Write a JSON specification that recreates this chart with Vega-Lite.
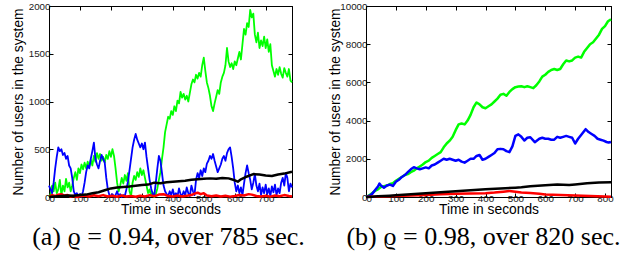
{
  "$schema": "https://vega.github.io/schema/vega-lite/v6.json",
  "padding": {"left": 10, "top": 0, "right": 5, "bottom": 2},
  "background": "white",
  "bounds": "flush",
  "spacing": 74,
  "config": {
    "view": {"stroke": "black", "strokeWidth": 1},
    "axis": {"grid": false, "domainColor": "black", "tickColor": "black", "tickSize": -4, "labelFont": "Liberation Sans", "labelFontSize": 9.8, "labelColor": "#1a1a1a", "titleFont": "Liberation Sans", "titleFontSize": 13.8, "titleFontWeight": "normal", "titleColor": "black", "labelPadding": 2, "titlePadding": 0},
    "axisBottom": {"labelPadding": 0},
    "axisLeft": {"minExtent": 24, "maxExtent": 24, "labelPadding": 3},
    "title": {"font": "Liberation Serif", "fontSize": 26, "fontWeight": "normal", "color": "black"},
    "line": {"strokeWidth": 1.8, "strokeJoin": "round"}
  },
  "datasets": {
    "a_green": [{"t":0,"v":0},{"t":5,"v":30},{"t":10,"v":120},{"t":15,"v":60},{"t":20,"v":150},{"t":25,"v":40},{"t":30,"v":80},{"t":35,"v":180},{"t":40,"v":20},{"t":45,"v":120},{"t":50,"v":60},{"t":55,"v":190},{"t":60,"v":100},{"t":65,"v":150},{"t":70,"v":60},{"t":75,"v":120},{"t":80,"v":200},{"t":85,"v":260},{"t":90,"v":180},{"t":95,"v":300},{"t":100,"v":250},{"t":105,"v":340},{"t":110,"v":290},{"t":115,"v":360},{"t":120,"v":300},{"t":125,"v":370},{"t":130,"v":320},{"t":135,"v":390},{"t":140,"v":330},{"t":145,"v":430},{"t":150,"v":370},{"t":155,"v":460},{"t":160,"v":400},{"t":165,"v":450},{"t":170,"v":380},{"t":175,"v":420},{"t":180,"v":360},{"t":185,"v":440},{"t":190,"v":400},{"t":195,"v":480},{"t":200,"v":420},{"t":205,"v":500},{"t":210,"v":430},{"t":215,"v":300},{"t":220,"v":150},{"t":225,"v":60},{"t":230,"v":120},{"t":235,"v":200},{"t":240,"v":140},{"t":245,"v":230},{"t":250,"v":170},{"t":255,"v":250},{"t":260,"v":60},{"t":265,"v":10},{"t":270,"v":150},{"t":275,"v":220},{"t":280,"v":180},{"t":285,"v":260},{"t":290,"v":210},{"t":295,"v":300},{"t":300,"v":230},{"t":305,"v":280},{"t":310,"v":200},{"t":315,"v":120},{"t":320,"v":40},{"t":325,"v":80},{"t":330,"v":10},{"t":335,"v":50},{"t":340,"v":0},{"t":345,"v":30},{"t":350,"v":90},{"t":355,"v":180},{"t":360,"v":260},{"t":365,"v":400},{"t":370,"v":520},{"t":375,"v":680},{"t":380,"v":760},{"t":385,"v":840},{"t":390,"v":820},{"t":395,"v":900},{"t":400,"v":860},{"t":405,"v":950},{"t":410,"v":900},{"t":415,"v":1010},{"t":420,"v":980},{"t":425,"v":1100},{"t":430,"v":1040},{"t":435,"v":1080},{"t":440,"v":1020},{"t":445,"v":1060},{"t":450,"v":1000},{"t":455,"v":1090},{"t":460,"v":1180},{"t":465,"v":1230},{"t":470,"v":1200},{"t":475,"v":1280},{"t":480,"v":1240},{"t":485,"v":1300},{"t":490,"v":1260},{"t":495,"v":1380},{"t":500,"v":1460},{"t":505,"v":1320},{"t":510,"v":1200},{"t":515,"v":1140},{"t":520,"v":1060},{"t":525,"v":950},{"t":530,"v":900},{"t":535,"v":980},{"t":540,"v":1050},{"t":545,"v":1120},{"t":550,"v":1080},{"t":555,"v":1200},{"t":560,"v":1260},{"t":565,"v":1300},{"t":570,"v":1380},{"t":575,"v":1560},{"t":580,"v":1420},{"t":585,"v":1360},{"t":590,"v":1400},{"t":595,"v":1340},{"t":600,"v":1420},{"t":605,"v":1380},{"t":610,"v":1450},{"t":615,"v":1520},{"t":620,"v":1440},{"t":625,"v":1600},{"t":630,"v":1760},{"t":635,"v":1700},{"t":640,"v":1820},{"t":645,"v":1780},{"t":650,"v":1960},{"t":655,"v":1880},{"t":660,"v":1920},{"t":665,"v":1700},{"t":670,"v":1620},{"t":675,"v":1720},{"t":680,"v":1560},{"t":685,"v":1640},{"t":690,"v":1580},{"t":695,"v":1680},{"t":700,"v":1560},{"t":705,"v":1650},{"t":710,"v":1520},{"t":715,"v":1600},{"t":720,"v":1380},{"t":725,"v":1320},{"t":730,"v":1260},{"t":735,"v":1340},{"t":740,"v":1280},{"t":745,"v":1360},{"t":750,"v":1290},{"t":755,"v":1250},{"t":760,"v":1350},{"t":765,"v":1300},{"t":770,"v":1260},{"t":775,"v":1340},{"t":780,"v":1220},{"t":785,"v":1200}],
    "a_blue": [{"t":0,"v":120},{"t":5,"v":80},{"t":10,"v":40},{"t":15,"v":150},{"t":20,"v":300},{"t":25,"v":420},{"t":30,"v":520},{"t":35,"v":480},{"t":40,"v":500},{"t":45,"v":440},{"t":50,"v":460},{"t":55,"v":400},{"t":60,"v":430},{"t":65,"v":330},{"t":70,"v":300},{"t":75,"v":200},{"t":80,"v":60},{"t":85,"v":20},{"t":90,"v":40},{"t":95,"v":10},{"t":100,"v":30},{"t":105,"v":5},{"t":110,"v":60},{"t":115,"v":150},{"t":120,"v":260},{"t":125,"v":330},{"t":130,"v":300},{"t":135,"v":400},{"t":140,"v":480},{"t":145,"v":570},{"t":150,"v":400},{"t":155,"v":340},{"t":160,"v":300},{"t":165,"v":380},{"t":170,"v":440},{"t":175,"v":400},{"t":180,"v":360},{"t":185,"v":200},{"t":190,"v":80},{"t":195,"v":20},{"t":200,"v":10},{"t":205,"v":30},{"t":210,"v":5},{"t":215,"v":20},{"t":220,"v":60},{"t":225,"v":10},{"t":230,"v":30},{"t":235,"v":0},{"t":240,"v":20},{"t":245,"v":10},{"t":250,"v":80},{"t":255,"v":160},{"t":260,"v":280},{"t":265,"v":400},{"t":270,"v":520},{"t":275,"v":600},{"t":280,"v":660},{"t":285,"v":600},{"t":290,"v":560},{"t":295,"v":520},{"t":300,"v":560},{"t":305,"v":500},{"t":310,"v":570},{"t":315,"v":420},{"t":320,"v":300},{"t":325,"v":180},{"t":330,"v":90},{"t":335,"v":30},{"t":340,"v":10},{"t":345,"v":150},{"t":350,"v":300},{"t":355,"v":430},{"t":360,"v":380},{"t":365,"v":250},{"t":370,"v":120},{"t":375,"v":60},{"t":380,"v":30},{"t":385,"v":10},{"t":390,"v":60},{"t":395,"v":20},{"t":400,"v":80},{"t":405,"v":10},{"t":410,"v":40},{"t":415,"v":5},{"t":420,"v":90},{"t":425,"v":30},{"t":430,"v":10},{"t":435,"v":60},{"t":440,"v":20},{"t":445,"v":100},{"t":450,"v":40},{"t":455,"v":10},{"t":460,"v":120},{"t":465,"v":60},{"t":470,"v":20},{"t":475,"v":180},{"t":480,"v":250},{"t":485,"v":200},{"t":490,"v":280},{"t":495,"v":220},{"t":500,"v":300},{"t":505,"v":260},{"t":510,"v":350},{"t":515,"v":380},{"t":520,"v":430},{"t":525,"v":400},{"t":530,"v":450},{"t":535,"v":380},{"t":540,"v":320},{"t":545,"v":260},{"t":550,"v":300},{"t":555,"v":340},{"t":560,"v":400},{"t":565,"v":430},{"t":570,"v":380},{"t":575,"v":460},{"t":580,"v":500},{"t":585,"v":520},{"t":590,"v":420},{"t":595,"v":300},{"t":600,"v":150},{"t":605,"v":60},{"t":610,"v":120},{"t":615,"v":40},{"t":620,"v":100},{"t":625,"v":20},{"t":630,"v":140},{"t":635,"v":250},{"t":640,"v":330},{"t":645,"v":250},{"t":650,"v":180},{"t":655,"v":80},{"t":660,"v":150},{"t":665,"v":240},{"t":670,"v":120},{"t":675,"v":60},{"t":680,"v":140},{"t":685,"v":20},{"t":690,"v":100},{"t":695,"v":40},{"t":700,"v":130},{"t":705,"v":30},{"t":710,"v":90},{"t":715,"v":10},{"t":720,"v":110},{"t":725,"v":50},{"t":730,"v":130},{"t":735,"v":20},{"t":740,"v":90},{"t":745,"v":40},{"t":750,"v":150},{"t":755,"v":200},{"t":760,"v":120},{"t":765,"v":250},{"t":770,"v":200},{"t":775,"v":60},{"t":780,"v":140},{"t":785,"v":100}],
    "a_red": [{"t":0,"v":5},{"t":10,"v":20},{"t":20,"v":10},{"t":30,"v":25},{"t":40,"v":30},{"t":50,"v":15},{"t":60,"v":20},{"t":70,"v":5},{"t":80,"v":12},{"t":90,"v":0},{"t":100,"v":8},{"t":115,"v":15},{"t":130,"v":5},{"t":145,"v":18},{"t":160,"v":8},{"t":175,"v":20},{"t":190,"v":5},{"t":205,"v":12},{"t":220,"v":3},{"t":235,"v":15},{"t":250,"v":5},{"t":265,"v":10},{"t":280,"v":2},{"t":295,"v":14},{"t":310,"v":6},{"t":325,"v":20},{"t":340,"v":8},{"t":355,"v":25},{"t":370,"v":30},{"t":385,"v":10},{"t":400,"v":5},{"t":415,"v":15},{"t":430,"v":5},{"t":445,"v":12},{"t":460,"v":20},{"t":470,"v":35},{"t":480,"v":45},{"t":490,"v":30},{"t":500,"v":40},{"t":510,"v":15},{"t":525,"v":8},{"t":540,"v":15},{"t":555,"v":5},{"t":570,"v":12},{"t":585,"v":4},{"t":600,"v":10},{"t":615,"v":20},{"t":630,"v":15},{"t":645,"v":30},{"t":655,"v":25},{"t":670,"v":10},{"t":685,"v":5},{"t":700,"v":12},{"t":715,"v":4},{"t":730,"v":15},{"t":745,"v":8},{"t":760,"v":20},{"t":775,"v":10},{"t":785,"v":5}],
    "a_black": [{"t":0,"v":0},{"t":20,"v":5},{"t":40,"v":10},{"t":60,"v":15},{"t":80,"v":12},{"t":100,"v":20},{"t":120,"v":25},{"t":140,"v":40},{"t":160,"v":50},{"t":180,"v":70},{"t":200,"v":90},{"t":220,"v":100},{"t":240,"v":105},{"t":260,"v":110},{"t":280,"v":118},{"t":300,"v":125},{"t":320,"v":130},{"t":340,"v":150},{"t":360,"v":145},{"t":380,"v":155},{"t":400,"v":160},{"t":420,"v":165},{"t":440,"v":170},{"t":460,"v":180},{"t":480,"v":185},{"t":500,"v":190},{"t":520,"v":195},{"t":540,"v":190},{"t":560,"v":200},{"t":580,"v":195},{"t":600,"v":175},{"t":610,"v":160},{"t":620,"v":185},{"t":640,"v":215},{"t":660,"v":240},{"t":680,"v":235},{"t":700,"v":225},{"t":720,"v":220},{"t":740,"v":235},{"t":760,"v":245},{"t":785,"v":265}],
    "b_green": [{"t":0,"v":0},{"t":10,"v":80},{"t":20,"v":200},{"t":30,"v":320},{"t":40,"v":400},{"t":50,"v":520},{"t":60,"v":560},{"t":70,"v":600},{"t":80,"v":680},{"t":90,"v":720},{"t":100,"v":850},{"t":110,"v":950},{"t":120,"v":1050},{"t":130,"v":1150},{"t":140,"v":1200},{"t":150,"v":1300},{"t":160,"v":1380},{"t":170,"v":1500},{"t":180,"v":1600},{"t":190,"v":1700},{"t":200,"v":1830},{"t":210,"v":1900},{"t":220,"v":2050},{"t":230,"v":2150},{"t":240,"v":2250},{"t":250,"v":2350},{"t":260,"v":2600},{"t":270,"v":2800},{"t":280,"v":2950},{"t":290,"v":3150},{"t":300,"v":3500},{"t":310,"v":3800},{"t":320,"v":3850},{"t":330,"v":3800},{"t":340,"v":4000},{"t":350,"v":4300},{"t":360,"v":4700},{"t":370,"v":4950},{"t":380,"v":4850},{"t":390,"v":4700},{"t":400,"v":4650},{"t":410,"v":4750},{"t":420,"v":4850},{"t":430,"v":5000},{"t":440,"v":5150},{"t":450,"v":5350},{"t":460,"v":5400},{"t":470,"v":5300},{"t":480,"v":5500},{"t":490,"v":5650},{"t":500,"v":5750},{"t":510,"v":5780},{"t":520,"v":5800},{"t":530,"v":5750},{"t":540,"v":5800},{"t":550,"v":5750},{"t":560,"v":5700},{"t":570,"v":5850},{"t":580,"v":6050},{"t":590,"v":6300},{"t":600,"v":6400},{"t":610,"v":6550},{"t":620,"v":6650},{"t":630,"v":6700},{"t":640,"v":6650},{"t":650,"v":6700},{"t":660,"v":6950},{"t":670,"v":7150},{"t":680,"v":7100},{"t":690,"v":7150},{"t":700,"v":7300},{"t":710,"v":7350},{"t":720,"v":7300},{"t":730,"v":7600},{"t":740,"v":7800},{"t":750,"v":8000},{"t":760,"v":8100},{"t":770,"v":8300},{"t":780,"v":8500},{"t":790,"v":8800},{"t":800,"v":8950},{"t":810,"v":9200},{"t":820,"v":9300}],
    "b_blue": [{"t":0,"v":0},{"t":10,"v":50},{"t":20,"v":150},{"t":30,"v":350},{"t":40,"v":550},{"t":45,"v":700},{"t":50,"v":600},{"t":60,"v":480},{"t":70,"v":600},{"t":80,"v":650},{"t":90,"v":580},{"t":100,"v":800},{"t":110,"v":900},{"t":120,"v":1050},{"t":130,"v":1150},{"t":140,"v":1300},{"t":150,"v":1450},{"t":160,"v":1560},{"t":170,"v":1500},{"t":180,"v":1450},{"t":190,"v":1500},{"t":200,"v":1550},{"t":210,"v":1500},{"t":220,"v":1650},{"t":230,"v":1700},{"t":240,"v":1800},{"t":250,"v":1900},{"t":260,"v":2000},{"t":270,"v":1950},{"t":280,"v":2000},{"t":290,"v":1950},{"t":300,"v":1900},{"t":310,"v":1950},{"t":320,"v":1850},{"t":330,"v":1800},{"t":340,"v":1900},{"t":350,"v":2000},{"t":360,"v":2000},{"t":370,"v":2150},{"t":380,"v":2200},{"t":390,"v":1950},{"t":400,"v":2000},{"t":410,"v":2100},{"t":420,"v":2200},{"t":430,"v":2300},{"t":440,"v":2500},{"t":450,"v":2520},{"t":460,"v":2500},{"t":470,"v":2400},{"t":480,"v":2350},{"t":490,"v":2650},{"t":500,"v":3200},{"t":510,"v":3280},{"t":520,"v":3150},{"t":530,"v":2960},{"t":540,"v":3100},{"t":550,"v":3130},{"t":565,"v":2870},{"t":580,"v":3050},{"t":590,"v":3100},{"t":600,"v":3050},{"t":610,"v":3050},{"t":620,"v":3000},{"t":630,"v":3000},{"t":640,"v":3150},{"t":650,"v":3100},{"t":660,"v":3150},{"t":670,"v":3200},{"t":680,"v":3150},{"t":690,"v":3100},{"t":700,"v":2800},{"t":710,"v":3050},{"t":720,"v":3250},{"t":735,"v":3550},{"t":745,"v":3400},{"t":755,"v":3300},{"t":765,"v":3200},{"t":775,"v":3050},{"t":785,"v":3000},{"t":795,"v":2950},{"t":805,"v":2880},{"t":812,"v":2850},{"t":820,"v":2880}],
    "b_red": [{"t":0,"v":0},{"t":20,"v":10},{"t":50,"v":30},{"t":100,"v":50},{"t":150,"v":80},{"t":200,"v":110},{"t":250,"v":140},{"t":300,"v":170},{"t":350,"v":180},{"t":400,"v":200},{"t":430,"v":230},{"t":460,"v":280},{"t":480,"v":320},{"t":500,"v":280},{"t":520,"v":240},{"t":550,"v":210},{"t":580,"v":170},{"t":600,"v":130},{"t":650,"v":110},{"t":700,"v":80},{"t":750,"v":50},{"t":800,"v":20},{"t":820,"v":10}],
    "b_black": [{"t":0,"v":0},{"t":20,"v":15},{"t":40,"v":35},{"t":60,"v":50},{"t":80,"v":70},{"t":100,"v":90},{"t":150,"v":140},{"t":200,"v":190},{"t":250,"v":250},{"t":300,"v":300},{"t":350,"v":350},{"t":400,"v":400},{"t":450,"v":440},{"t":500,"v":490},{"t":520,"v":510},{"t":550,"v":560},{"t":600,"v":620},{"t":640,"v":650},{"t":680,"v":630},{"t":700,"v":660},{"t":740,"v":720},{"t":780,"v":760},{"t":820,"v":770}]
  },
  "hconcat": [
    {
      "width": 243, "height": 191,
      "title": {"text": "(a) ϱ = 0.94, over 785 sec.", "orient": "bottom", "anchor": "middle", "dx": -2, "offset": 7},
      "layer": [
        {"data": {"name": "a_green"}, "mark": {"type": "line", "color": "#00ff00"},
         "encoding": {
           "x": {"field": "t", "type": "quantitative", "scale": {"domain": [0, 785], "nice": false}, "axis": {"orient": "bottom", "values": [0,100,200,300,400,500,600,700], "title": "Time in seconds"}},
           "y": {"field": "v", "type": "quantitative", "scale": {"domain": [0, 2000], "nice": false}, "axis": {"orient": "left", "values": [0,500,1000,1500,2000], "format": "d", "title": "Number of users in the system"}}
         }},
        {"data": {"name": "a_blue"}, "mark": {"type": "line", "color": "#0000ff"},
         "encoding": {"x": {"field": "t", "type": "quantitative", "scale": {"domain": [0, 785], "nice": false}, "axis": null}, "y": {"field": "v", "type": "quantitative", "scale": {"domain": [0, 2000], "nice": false}, "axis": null}}},
        {"data": {"name": "a_red"}, "mark": {"type": "line", "color": "#ff0000", "strokeWidth": 2.5},
         "encoding": {"x": {"field": "t", "type": "quantitative", "scale": {"domain": [0, 785], "nice": false}, "axis": null}, "y": {"field": "v", "type": "quantitative", "scale": {"domain": [0, 2000], "nice": false}, "axis": null}}},
        {"data": {"name": "a_black"}, "mark": {"type": "line", "color": "#000000", "strokeWidth": 2.5},
         "encoding": {"x": {"field": "t", "type": "quantitative", "scale": {"domain": [0, 785], "nice": false}, "axis": null}, "y": {"field": "v", "type": "quantitative", "scale": {"domain": [0, 2000], "nice": false}, "axis": null}}},
        {"data": {"name": "a_black"}, "mark": {"type": "line", "opacity": 0},
         "encoding": {
           "x": {"field": "t", "type": "quantitative", "scale": {"domain": [0, 785], "nice": false}, "axis": {"orient": "top", "values": [0,100,200,300,400,500,600,700], "labels": false, "title": null}},
           "y": {"field": "v", "type": "quantitative", "scale": {"domain": [0, 2000], "nice": false}, "axis": {"orient": "right", "values": [0,500,1000,1500,2000], "labels": false, "title": null}}
         }}
      ]
    },
    {
      "width": 245, "height": 191,
      "title": {"text": "(b) ϱ = 0.98, over 820 sec.", "orient": "bottom", "anchor": "middle", "dx": -5, "offset": 7},
      "layer": [
        {"data": {"name": "b_green"}, "mark": {"type": "line", "color": "#00ff00", "strokeWidth": 2.5},
         "encoding": {
           "x": {"field": "t", "type": "quantitative", "scale": {"domain": [0, 820], "nice": false}, "axis": {"orient": "bottom", "values": [0,100,200,300,400,500,600,700,800], "title": "Time in seconds"}},
           "y": {"field": "v", "type": "quantitative", "scale": {"domain": [0, 10000], "nice": false}, "axis": {"orient": "left", "values": [0,2000,4000,6000,8000,10000], "format": "d", "title": "Number of users in the system"}}
         }},
        {"data": {"name": "b_blue"}, "mark": {"type": "line", "color": "#0000ff", "strokeWidth": 2.5},
         "encoding": {"x": {"field": "t", "type": "quantitative", "scale": {"domain": [0, 820], "nice": false}, "axis": null}, "y": {"field": "v", "type": "quantitative", "scale": {"domain": [0, 10000], "nice": false}, "axis": null}}},
        {"data": {"name": "b_red"}, "mark": {"type": "line", "color": "#ff0000", "strokeWidth": 2.5},
         "encoding": {"x": {"field": "t", "type": "quantitative", "scale": {"domain": [0, 820], "nice": false}, "axis": null}, "y": {"field": "v", "type": "quantitative", "scale": {"domain": [0, 10000], "nice": false}, "axis": null}}},
        {"data": {"name": "b_black"}, "mark": {"type": "line", "color": "#000000", "strokeWidth": 2.5},
         "encoding": {"x": {"field": "t", "type": "quantitative", "scale": {"domain": [0, 820], "nice": false}, "axis": null}, "y": {"field": "v", "type": "quantitative", "scale": {"domain": [0, 10000], "nice": false}, "axis": null}}},
        {"data": {"name": "b_black"}, "mark": {"type": "line", "opacity": 0},
         "encoding": {
           "x": {"field": "t", "type": "quantitative", "scale": {"domain": [0, 820], "nice": false}, "axis": {"orient": "top", "values": [0,100,200,300,400,500,600,700,800], "labels": false, "title": null}},
           "y": {"field": "v", "type": "quantitative", "scale": {"domain": [0, 10000], "nice": false}, "axis": {"orient": "right", "values": [0,2000,4000,6000,8000,10000], "labels": false, "title": null}}
         }}
      ]
    }
  ]
}
